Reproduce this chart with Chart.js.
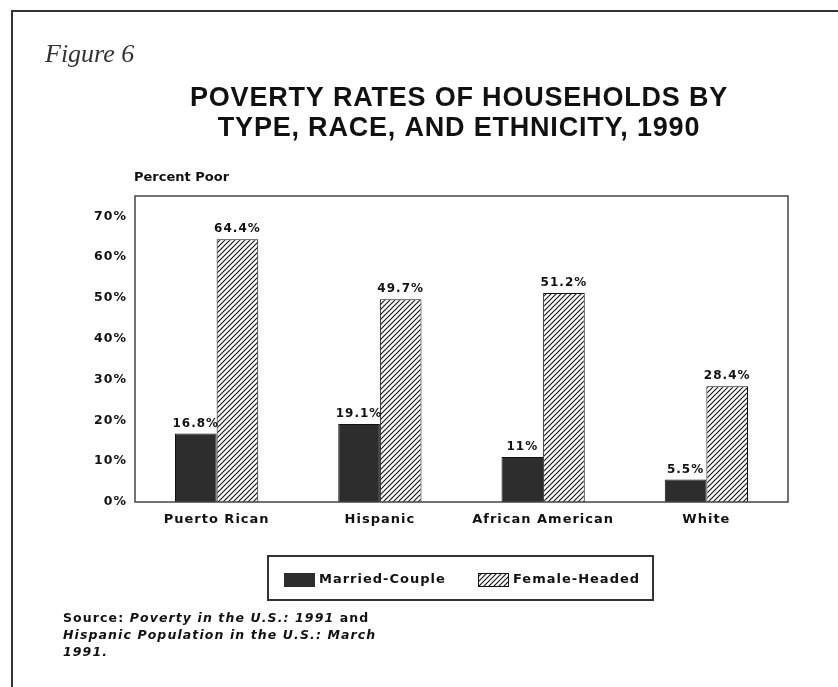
<!DOCTYPE html>
<html><head><meta charset="utf-8">
<script src="https://cdn.jsdelivr.net/npm/chart.js@4.4.0/dist/chart.umd.min.js"></script>
<style>html,body{margin:0;padding:0;background:#fff;}canvas{display:block}</style>
</head><body>
<canvas id="c" width="838" height="687"></canvas>
<script>
const categories = ['Puerto Rican', 'Hispanic', 'African American', 'White'];
const marriedCouple = [16.8, 19.1, 11, 5.5];
const femaleHeaded = [64.4, 49.7, 51.2, 28.4];
const marriedLabels = ['16.8%', '19.1%', '11%', '5.5%'];
const femaleLabels = ['64.4%', '49.7%', '51.2%', '28.4%'];
const yTicks = [0, 10, 20, 30, 40, 50, 60, 70];
const seriesNames = ['Married-Couple', 'Female-Headed'];
const titleLines = ['POVERTY RATES OF HOUSEHOLDS BY', 'TYPE, RACE, AND ETHNICITY, 1990'];
const figureLabel = 'Figure 6';
const axisTitle = 'Percent Poor';

const SANS = '"DejaVu Sans", sans-serif';
const DARK = '#2d2d2d';

function makeHatch() {
  const t = document.createElement('canvas');
  t.width = 5; t.height = 5;
  const g = t.getContext('2d');
  g.fillStyle = '#fff'; g.fillRect(0, 0, 5, 5);
  g.strokeStyle = '#111'; g.lineWidth = 1.1;
  g.beginPath();
  g.moveTo(-1, 6); g.lineTo(6, -1);
  g.moveTo(-1, 1); g.lineTo(1, -1);
  g.moveTo(4, 6); g.lineTo(6, 4);
  g.stroke();
  const c = document.createElement('canvas').getContext('2d');
  return c.createPattern(t, 'repeat');
}
const hatch = makeHatch();

const spacingPlugin = {
  id: 'spacing',
  beforeDraw(chart) { chart.ctx.letterSpacing = '1px'; }
};

const labelsPlugin = {
  id: 'barLabels',
  afterDatasetsDraw(chart) {
    const ctx = chart.ctx;
    const lbls = [marriedLabels, femaleLabels];
    ctx.save();
    ctx.letterSpacing = '1px';
    ctx.font = 'bold 12px ' + SANS;
    ctx.fillStyle = '#111';
    ctx.textAlign = 'center';
    ctx.textBaseline = 'bottom';
    chart.data.datasets.forEach((ds, di) => {
      chart.getDatasetMeta(di).data.forEach((el, i) => {
        ctx.fillText(lbls[di][i], el.x, el.y - 4);
      });
    });
    ctx.restore();
  }
};

const decorPlugin = {
  id: 'decor',
  afterDraw(chart) {
    const ctx = chart.ctx;
    const a = chart.chartArea;
    ctx.save();
    // outer frame
    ctx.strokeStyle = '#333'; ctx.lineWidth = 2;
    ctx.beginPath();
    ctx.moveTo(12, 687); ctx.lineTo(12, 11); ctx.lineTo(838, 11);
    ctx.stroke();
    // plot box
    ctx.lineWidth = 1.5; ctx.strokeStyle = '#444';
    ctx.strokeRect(a.left, a.top, a.right - a.left, a.bottom - a.top);
    // figure label
    ctx.letterSpacing = '0px';
    ctx.fillStyle = '#333';
    ctx.font = 'italic 26px "Liberation Serif", serif';
    ctx.textAlign = 'left'; ctx.textBaseline = 'alphabetic';
    ctx.fillText(figureLabel, 45, 62);
    // title
    ctx.fillStyle = '#111';
    ctx.letterSpacing = '0.8px';
    ctx.font = 'bold 27px "Liberation Sans", sans-serif';
    ctx.textAlign = 'center'; ctx.textBaseline = 'middle';
    ctx.fillText(titleLines[0], 459, 99);
    ctx.fillText(titleLines[1], 459, 129);
    // axis title
    ctx.letterSpacing = '0px';
    ctx.font = 'bold 13px ' + SANS;
    ctx.textAlign = 'left';
    ctx.fillText(axisTitle, a.left - 1, 178);
    // legend
    ctx.letterSpacing = '1px';
    ctx.lineWidth = 2; ctx.strokeStyle = '#333';
    ctx.strokeRect(268, 556, 385, 44);
    const ly = 580;
    ctx.fillStyle = DARK;
    ctx.fillRect(284, ly - 7, 31, 14);
    ctx.fillStyle = hatch;
    ctx.fillRect(478, ly - 7, 31, 14);
    ctx.lineWidth = 1; ctx.strokeStyle = '#111';
    ctx.strokeRect(478.5, ly - 6.5, 30, 13);
    ctx.fillStyle = '#111';
    ctx.font = 'bold 13px ' + SANS;
    ctx.textBaseline = 'middle';
    ctx.fillText(seriesNames[0], 319, ly);
    ctx.fillText(seriesNames[1], 513, ly);
    // source
    ctx.letterSpacing = '1.1px';
    ctx.textBaseline = 'alphabetic';
    const F = '12.5px ' + SANS;
    let x = 63, y = 622;
    ctx.font = 'bold ' + F;
    ctx.fillText('Source: ', x, y);
    x += ctx.measureText('Source: ').width;
    ctx.font = 'italic bold ' + F;
    ctx.fillText('Poverty in the U.S.: 1991', x, y);
    x += ctx.measureText('Poverty in the U.S.: 1991').width;
    ctx.font = 'bold ' + F;
    ctx.fillText(' and', x, y);
    ctx.font = 'italic bold ' + F;
    ctx.fillText('Hispanic Population in the U.S.: March', 63, y + 17);
    ctx.fillText('1991.', 63, y + 34);
    ctx.restore();
  }
};

new Chart(document.getElementById('c'), {
  type: 'bar',
  data: {
    labels: categories,
    datasets: [
      { label: seriesNames[0], data: marriedCouple, backgroundColor: DARK, borderColor: '#111', borderWidth: 1 },
      { label: seriesNames[1], data: femaleHeaded, backgroundColor: hatch, borderColor: '#111', borderWidth: 1 }
    ]
  },
  options: {
    responsive: false,
    animation: false,
    events: [],
    layout: { padding: { top: 196, right: 50, left: 0, bottom: 0 } },
    plugins: { legend: { display: false }, title: { display: false }, tooltip: { enabled: false } },
    datasets: { bar: { categoryPercentage: 0.51, barPercentage: 1.0 } },
    scales: {
      x: {
        grid: { display: false, drawTicks: false },
        border: { display: false },
        ticks: { color: '#111', font: { family: SANS, weight: 'bold', size: 13 }, padding: 10, maxRotation: 0 },
        afterFit(s) { s.height = 185; }
      },
      y: {
        min: 0, max: 75,
        grid: { display: false, drawTicks: false },
        border: { display: false },
        afterBuildTicks(s) { s.ticks = yTicks.map(v => ({ value: v })); },
        ticks: { color: '#111', font: { family: SANS, weight: 'bold', size: 12.5 }, padding: 8, callback: v => v + '%' },
        afterFit(s) { s.width = 135; }
      }
    }
  },
  plugins: [spacingPlugin, labelsPlugin, decorPlugin]
});
</script>
</body></html>
